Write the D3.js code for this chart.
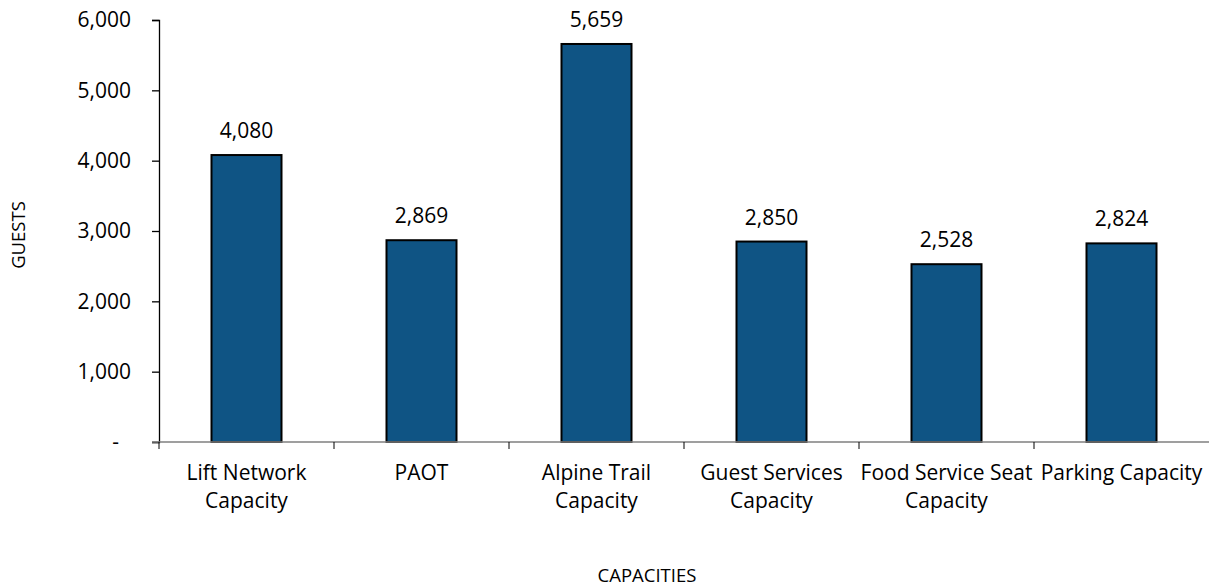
<!DOCTYPE html>
<html>
<head>
<meta charset="utf-8">
<script src="https://cdn.jsdelivr.net/npm/d3@7"></script>
<style>
  html, body { margin: 0; padding: 0; background: #fff; }
  svg { display: block; font-family: "Open Sans", "Noto Sans", sans-serif; }
</style>
</head>
<body>
<svg id="chart" width="1209" height="588"></svg>
<script>
// capacidades por categoría
const categories = ['Lift Network Capacity', 'PAOT', 'Alpine Trail Capacity', 'Guest Services Capacity', 'Food Service Seat Capacity', 'Parking Capacity'];
const catLines = [['Lift Network', 'Capacity'], ['PAOT'], ['Alpine Trail', 'Capacity'], ['Guest Services', 'Capacity'], ['Food Service Seat', 'Capacity'], ['Parking Capacity']];
const guests = [4080, 2869, 5659, 2850, 2528, 2824];
const yTicks = [0, 1000, 2000, 3000, 4000, 5000, 6000];

(function draw() {
  const svg = d3.select('#chart');
  const mL = 159, mR = 1209, mT = 20, mB = 442;

  const x = d3.scaleBand().domain(categories).range([mL, mR]).paddingInner(0).paddingOuter(0);
  const y = d3.scaleLinear().domain([0, 6000]).range([mB, mT]);
  const fmt = d3.format(',');
  const FS = 21;

  // eje y
  const gy = svg.append('g').attr('transform', `translate(${mL},0)`)
    .call(d3.axisLeft(y).tickValues(yTicks).tickSize(7).tickPadding(21)
      .tickFormat(d => d === 0 ? '-' : fmt(d)));
  gy.select('.domain').attr('stroke', '#000').attr('stroke-width', 1.3);
  gy.selectAll('.tick line').attr('stroke', '#000').attr('stroke-width', 1.3);
  gy.selectAll('.tick text').style('font-size', FS + 'px').attr('fill', '#000')
    .attr('font-family', '"Open Sans", sans-serif')
    .attr('dx', d => d === 0 ? -12 : 0);

  // barras
  const bw = x.bandwidth() * 0.4;
  svg.append('g').selectAll('rect').data(guests).join('rect')
    .attr('x', (d, i) => x(categories[i]) + (x.bandwidth() - bw) / 2)
    .attr('y', d => y(d))
    .attr('width', bw)
    .attr('height', d => y(0) - y(d))
    .attr('fill', '#0F5484')
    .attr('stroke', '#000').attr('stroke-width', 2);

  // eje x
  svg.append('line').attr('x1', mL - 7).attr('x2', mR).attr('y1', mB).attr('y2', mB)
    .attr('stroke', '#7f7f7f').attr('stroke-width', 1.5);
  const bounds = categories.map(c => x(c));
  svg.append('g').selectAll('line').data(bounds).join('line')
    .attr('x1', d => d).attr('x2', d => d).attr('y1', mB).attr('y2', mB + 7)
    .attr('stroke', '#000').attr('stroke-width', 1);

  // etiquetas de categoría
  const lab = svg.append('g').selectAll('text').data(catLines).join('text')
    .attr('text-anchor', 'middle')
    .style('font-size', FS + 'px').attr('fill', '#000');
  lab.each(function (lines, i) {
    const cx = x(categories[i]) + x.bandwidth() / 2;
    d3.select(this).selectAll('tspan').data(lines).join('tspan')
      .attr('x', cx).attr('y', (d, k) => 480 + k * 28).text(d => d);
  });

  // valores sobre las barras
  svg.append('g').selectAll('text').data(guests).join('text')
    .attr('x', (d, i) => x(categories[i]) + x.bandwidth() / 2)
    .attr('y', d => y(d) - 17)
    .attr('text-anchor', 'middle')
    .style('font-size', FS + 'px').attr('fill', '#000')
    .text(d => fmt(d));

  // títulos de ejes
  svg.append('text').attr('transform', 'translate(25,235) rotate(-90)')
    .attr('text-anchor', 'middle').style('font-size', '18.5px').attr('fill', '#000').text('GUESTS');
  svg.append('text').attr('x', 647).attr('y', 582)
    .attr('text-anchor', 'middle').style('font-size', '18.5px').attr('fill', '#000').text('CAPACITIES');
})();
</script>
</body>
</html>
